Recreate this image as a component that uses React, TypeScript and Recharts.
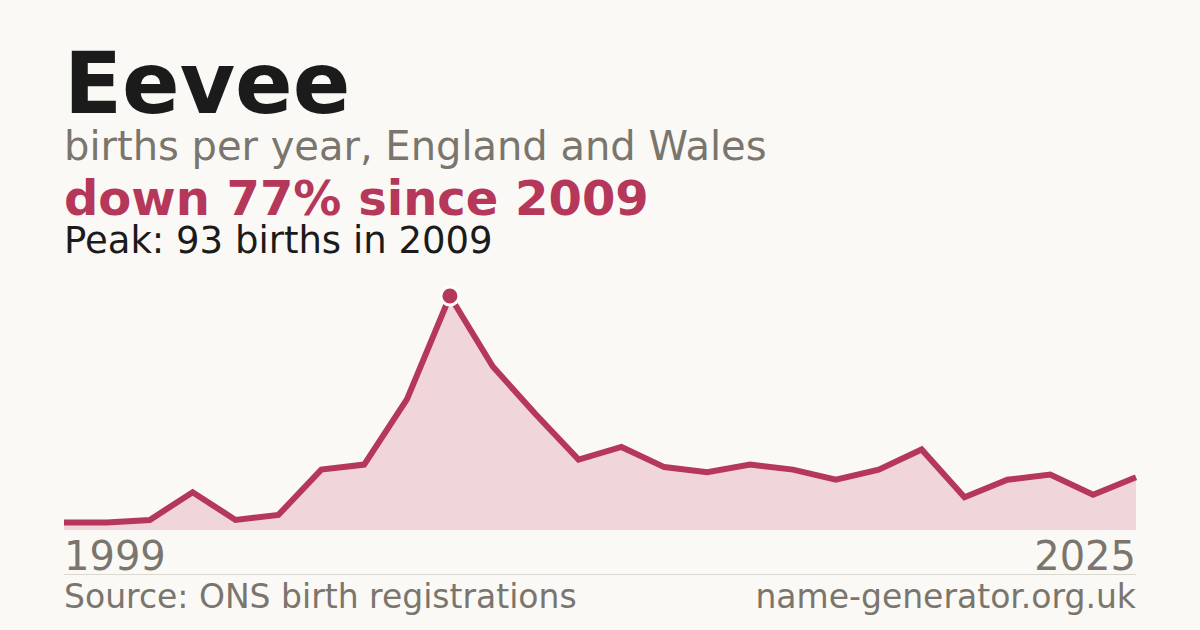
import { AreaChart, Area, XAxis, YAxis } from 'recharts'

// Eevee births per year, England and Wales
const years = [2000, 2001, 2002, 2003, 2004, 2005, 2006, 2007, 2008, 2009, 2010, 2011, 2012, 2013, 2014, 2015, 2016, 2017, 2018, 2019, 2020, 2021, 2022, 2023, 2024, 2025]
const births = [3, 3, 4, 15, 4, 6, 24, 26, 52, 93, 65, 46, 28, 33, 25, 23, 26, 24, 20, 24, 32, 13, 20, 22, 14, 21]
const axisLabels = ['1999', '2025']

const BG = '#faf9f5'
const ACCENT = '#b5375a'
const FILL = '#f0d5db'
const MUTED = '#7a756d'
const INK = '#1b1b1b'
const FONT = '"DejaVu Sans", sans-serif'

const data = years.map((year, i) => ({ year, births: births[i] }))
const peak = Math.max(...births)
const peakIndex = births.indexOf(peak)

// line-height 0.8 with DejaVu metrics puts the baseline ~0.746em below the box top
const text = (fs: number, baseline: number, extra: any = {}) => ({
  position: 'absolute' as const,
  left: 64,
  top: baseline - 0.746 * fs,
  fontSize: fs,
  lineHeight: 0.8,
  whiteSpace: 'nowrap' as const,
  ...extra,
})

const PeakDot = (props: any) => {
  const { cx, cy, index } = props
  if (index !== peakIndex) return <g key={index} />
  return <circle key={index} cx={cx} cy={cy} r={9} fill={ACCENT} stroke="#ffffff" strokeWidth={3} />
}

export default function App() {
  return (
    <div style={{ position: 'fixed', left: 0, top: 0, width: 1200, height: 630, background: BG, fontFamily: FONT, overflow: 'hidden' }}>
      <div style={{ position: 'absolute', left: 0, top: 0 }}>
        <AreaChart width={1200} height={630} data={data} margin={{ top: 296, right: 64, bottom: 100, left: 64 }}>
          <XAxis dataKey="year" hide />
          <YAxis domain={[0, peak]} hide />
          <Area
            type="linear"
            dataKey="births"
            stroke={ACCENT}
            strokeWidth={6}
            fill={FILL}
            fillOpacity={1}
            dot={PeakDot}
            activeDot={false}
            isAnimationActive={false}
          />
        </AreaChart>
      </div>

      <div style={text(85, 113, { fontWeight: 700, color: INK })}>Eevee</div>
      <div style={text(40, 160, { color: MUTED })}>births per year, England and Wales</div>
      <div style={text(48, 215, { fontWeight: 700, color: ACCENT })}>down 77% since 2009</div>
      <div style={text(37, 254, { color: INK })}>Peak: 93 births in 2009</div>

      <div style={text(40, 570, { color: MUTED })}>{axisLabels[0]}</div>
      <div style={text(40, 570, { color: MUTED, left: undefined, right: 64 })}>{axisLabels[1]}</div>

      <div style={{ position: 'absolute', left: 64, top: 574, width: 1072, height: 1, background: '#dcd8d0' }} />

      <div style={text(33, 609, { color: MUTED })}>Source: ONS birth registrations</div>
      <div style={text(33, 609, { color: MUTED, left: undefined, right: 64 })}>name-generator.org.uk</div>
    </div>
  )
}
